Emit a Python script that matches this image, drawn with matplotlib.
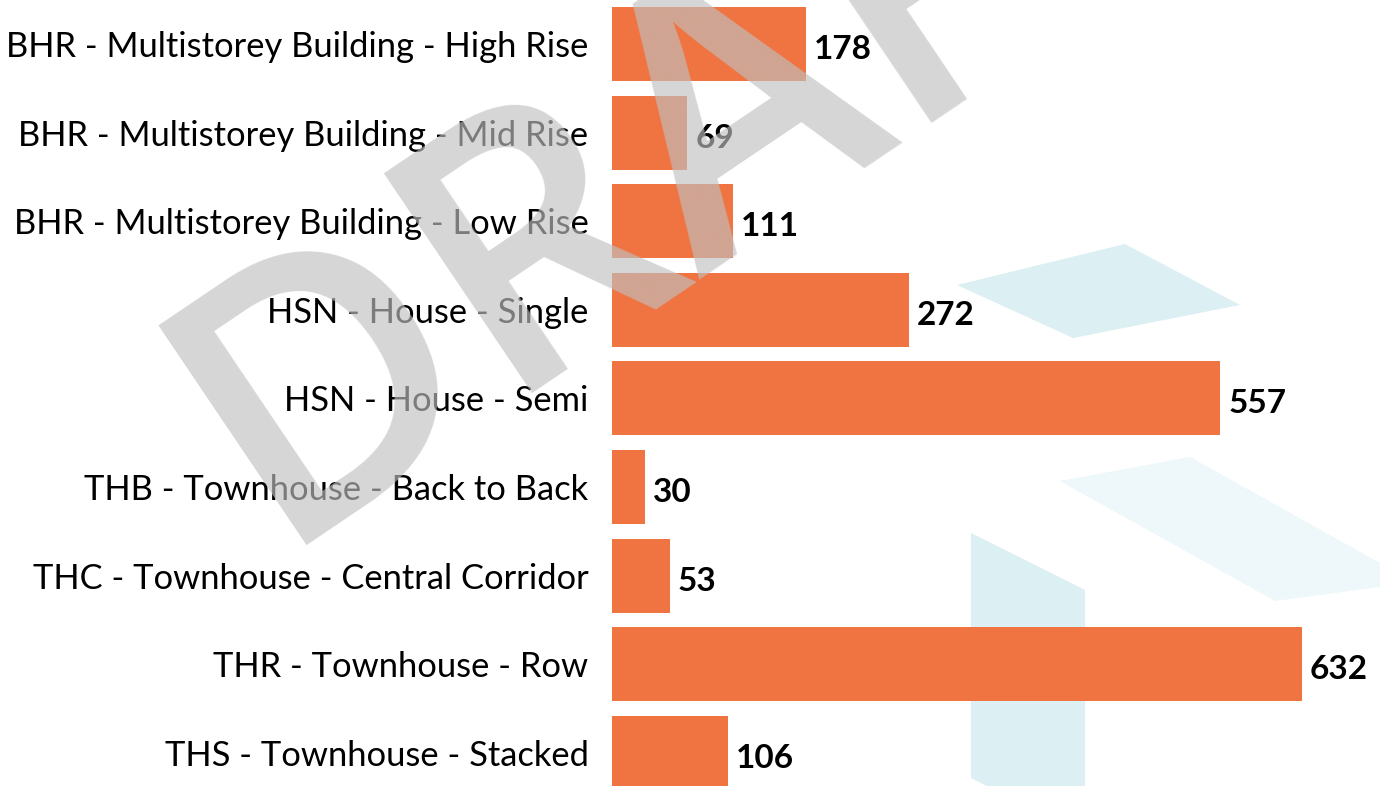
import matplotlib.pyplot as plt
from matplotlib.patches import Polygon

categories = [
    "BHR - Multistorey Building - High Rise",
    "BHR - Multistorey Building - Mid Rise",
    "BHR - Multistorey Building - Low Rise",
    "HSN - House - Single",
    "HSN - House - Semi",
    "THB - Townhouse - Back to Back",
    "THC - Townhouse - Central Corridor",
    "THR - Townhouse - Row",
    "THS - Townhouse - Stacked",
]
values = [178, 69, 111, 272, 557, 30, 53, 632, 106]

W, H = 1380, 786
fig = plt.figure(figsize=(13.8, 7.86), dpi=100, facecolor="white")


def px(x, y):
    return (x / W, 1 - y / H)


# light blue background shapes
shapes = [
    ([(957, 285), (1125, 244), (1240, 305), (1073, 338)], "#DCEFF3"),
    ([(1060, 481), (1190, 457), (1380, 563), (1380, 587), (1275, 601)], "#EEF7FA"),
    ([(971, 533), (1085, 590), (1085, 786), (987, 786), (971, 778)], "#DCEFF3"),
]
for pts, c in shapes:
    fig.add_artist(Polygon([px(*p) for p in pts], closed=True, facecolor=c,
                           edgecolor="none", transform=fig.transFigure, zorder=-5))

ax = fig.add_axes([612 / W, 0, 1 - 612 / W, 1])
ax.patch.set_alpha(0)
pos = list(range(len(values)))
ax.barh(pos, values, height=0.835, color="#F07442")
ax.set_ylim(8.375, -0.497)
ax.set_xlim(0, 703.4)
ax.set_yticks(pos)
ax.set_yticklabels(categories, fontsize=24.8, family="Lato")
ax.tick_params(axis="y", length=0, pad=17)
ax.set_xticks([])
for s in ax.spines.values():
    s.set_visible(False)

for i, v in enumerate(values):
    ax.annotate(str(v), (v, i), xytext=(8, -15), textcoords="offset pixels",
                ha="left", va="baseline", fontsize=24, fontweight="bold",
                family="Lato")

# DRAFT watermark
fig.text(*px(272, 545), "DRAFT", rotation=34, rotation_mode="anchor",
         ha="left", va="baseline", fontsize=267, fontweight=600,
         family="Open Sans", color="#C0C0C0", alpha=0.65, zorder=10)

plt.savefig("out.png", dpi=100)
